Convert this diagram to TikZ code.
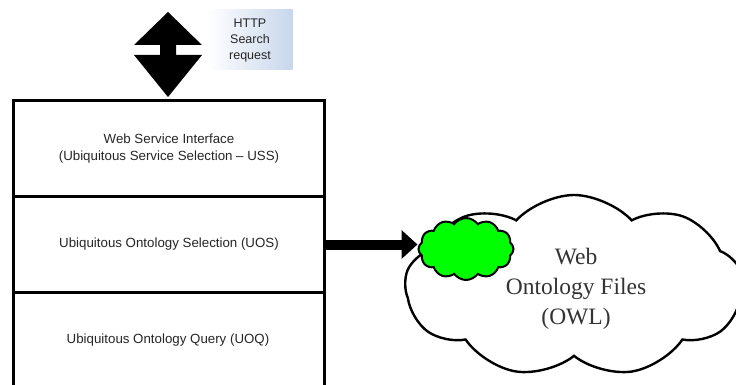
\documentclass[tikz,border=0pt]{standalone}
\usepackage{fontspec}
\setmainfont{Liberation Sans}
\newfontfamily\serifcloud{Liberation Serif}
\usetikzlibrary{shapes.symbols,arrows.meta}
\definecolor{labelblue}{RGB}{200,214,236}
\tikzset{
  layertext/.style={font=\fontsize{13.3}{17}\selectfont, text=black!85, align=center},
  layer/.style={draw, line width=3pt, anchor=north west, minimum width=311pt,
    minimum height=96pt, inner sep=0pt, layertext},
  cloudbig/.style={cloud, cloud puffs=9, cloud puff arc=95, cloud ignores aspect, draw,
    line width=2.4pt, fill=white, minimum width=338pt, minimum height=182pt},
  cloudtext/.style={align=center, font=\serifcloud\fontsize{23.5}{30}\selectfont,
    text=black!80},
  cloudsmall/.style={cloud, cloud puffs=12, cloud puff arc=110, cloud ignores aspect, draw,
    line width=2pt, fill=green, minimum width=95pt, minimum height=62pt},
  label/.style={align=center, font=\fontsize{12.5}{16}\selectfont, text=black!85,
    minimum width=85pt, minimum height=60pt, inner sep=0pt},
  bigarrow/.style={line width=10pt, -{Triangle[length=16pt,width=28pt]}}
}
\begin{document}
\begin{tikzpicture}[x=1pt,y=-1pt]
  \useasboundingbox (0,0) rectangle (736,385);
  \clip (0,0) rectangle (736,385);
  \fill[white] (0,0) rectangle (736,385);

  % request label with soft blue shading
  \node[label, left color=white, right color=labelblue] (http) at (250,40)
    {HTTP\\Search\\request};

  % two-way request arrow
  \fill[black] (168,12) -- (202,45) -- (176,45) -- (176,55) -- (202,55) -- (168,97)
    -- (134,55) -- (160,55) -- (160,45) -- (134,45) -- cycle;

  % stacked service layers
  \node[layer] (uss) at (12,99) {Web Service Interface\\(Ubiquitous Service Selection -- USS)};
  \node[layer] (uos) at (12,195) {Ubiquitous Ontology Selection (UOS)};
  \node[layer, minimum height=100pt] (uoq) at (12,291) {};
  \node[layertext] (uoqtext) at (168,340) {Ubiquitous Ontology Query (UOQ)};

  % ontology store
  \node[cloudbig] (owl) at (574,286) {};
  \node[cloudtext] (owltext) at (576,289) {Web\\Ontology Files\\(OWL)};
  \node[cloudsmall] (sel) at (466,249) {};

  \draw[bigarrow] (uos.east) -- (uos.east -| sel.west);
\end{tikzpicture}
\end{document}
